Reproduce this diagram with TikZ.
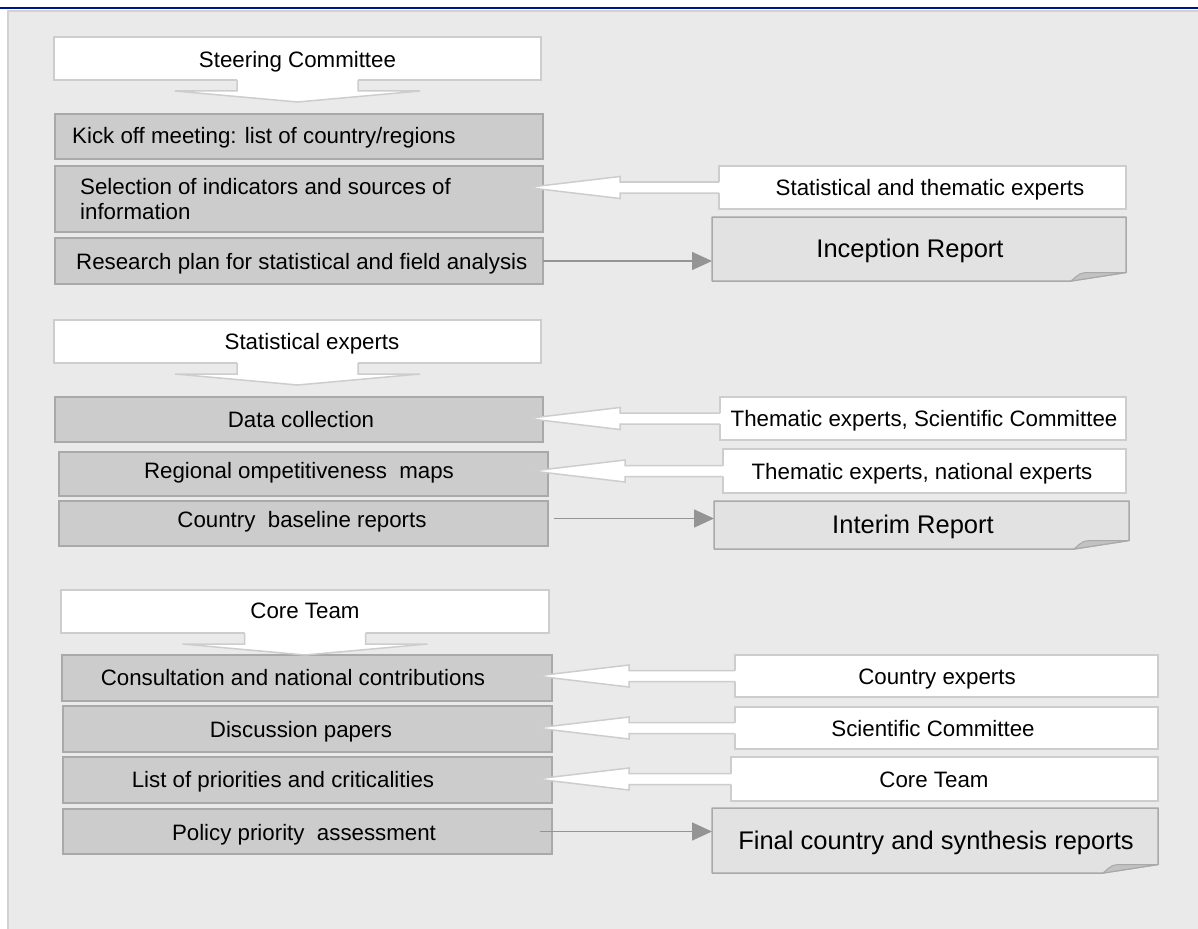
\documentclass[tikz,border=0pt]{standalone}
\usepackage{fontspec}
\setmainfont{Liberation Sans}
\usetikzlibrary{calc,arrows.meta}
\definecolor{panelbg}{HTML}{EAEAEA}
\definecolor{panelline}{HTML}{D2D2D2}
\definecolor{navy}{RGB}{0,20,135}
\definecolor{wline}{HTML}{CDCDCD}
\definecolor{gfill}{HTML}{CCCCCC}
\definecolor{gline}{HTML}{A9A9A9}
\definecolor{docfill}{HTML}{E2E2E2}
\definecolor{foldfill}{HTML}{C2C2C2}
\definecolor{arrowgray}{HTML}{949494}
\tikzset{
  wbox/.style={draw=wline, fill=white, line width=1.5pt, inner sep=0pt, outer sep=0pt, anchor=north west},
  gbox/.style={draw=gline, fill=gfill, line width=1.5pt, inner sep=0pt, outer sep=0pt, anchor=north west},
  docnode/.style={inner sep=0pt, outer sep=0pt, anchor=north west},
  docshape/.style={draw=gline, fill=docfill, line width=1.5pt, line join=round},
  foldshape/.style={draw=gline, fill=foldfill, line width=1pt, line join=round},
  txt/.style={font=\fontsize{22.3}{25}\selectfont, anchor=base, inner sep=0pt},
  bigtxt/.style={font=\fontsize{25.5}{30}\selectfont, anchor=base, inner sep=0pt},
  arrowfill/.style={fill=white},
  arrowline/.style={draw=wline, line width=1.5pt, line join=miter},
  flowarrow/.style={draw=arrowgray, line width=1.5pt, -{Triangle[length=20pt,width=18pt]}},
}
\newcommand\boxat[6]{\node[#1, minimum width={#5-#3}, minimum height={#6-#4}] (#2) at (#3,#4) {};}
\newcommand\docat[5]{%
  \node[docnode, minimum width={#4-#2}, minimum height={#5-#3}] (#1) at (#2,#3) {};
  \path[docshape] (#1.north west) -- (#1.north east) -- ($(#1.south east)+(0,-8.5)$)
     .. controls ($(#1.south east)+(-28,-5)$) .. ($(#1.south east)+(-55,0)$) -- (#1.south west) -- cycle;
  \path[foldshape] ($(#1.south east)+(-55,0)$) .. controls ($(#1.south east)+(-46,-8)$) .. ($(#1.south east)+(-38,-8.5)$)
     -- ($(#1.south east)+(0,-8.5)$) .. controls ($(#1.south east)+(-28,-5)$) .. ($(#1.south east)+(-55,0)$) -- cycle;
}
\newcommand\downblock[1]{%
  \fill[arrowfill] ($(#1.south)+(-60.5,-1.5)$) -- ($(#1.south)+(-60.5,11)$) -- ($(#1.south)+(-122.5,11)$)
     -- ($(#1.south)+(0,22)$) -- ($(#1.south)+(122.5,11)$) -- ($(#1.south)+(60.5,11)$) -- ($(#1.south)+(60.5,-1.5)$) -- cycle;
  \draw[arrowline] ($(#1.south)+(-60.5,0)$) -- ($(#1.south)+(-60.5,11)$) -- ($(#1.south)+(-122.5,11)$)
     -- ($(#1.south)+(0,22)$) -- ($(#1.south)+(122.5,11)$) -- ($(#1.south)+(60.5,11)$) -- ($(#1.south)+(60.5,0)$);
}
\newcommand\leftblock[2]{%
  \fill[arrowfill] let \p1=(#1.west), \p2=(#2.east) in
    (\x2-16pt,\y1) -- (\x2+77pt,\y1-11pt) -- (\x2+77pt,\y1-5.5pt) -- (\x1+1.5pt,\y1-5.5pt)
    -- (\x1+1.5pt,\y1+5.5pt) -- (\x2+77pt,\y1+5.5pt) -- (\x2+77pt,\y1+11pt) -- cycle;
  \draw[arrowline] let \p1=(#1.west), \p2=(#2.east) in
    (\x1,\y1-5.5pt) -- (\x2+77pt,\y1-5.5pt) -- (\x2+77pt,\y1-11pt) -- (\x2-16pt,\y1)
    -- (\x2+77pt,\y1+11pt) -- (\x2+77pt,\y1+5.5pt) -- (\x1,\y1+5.5pt);
}
\begin{document}
\begin{tikzpicture}[x=1pt, y=-1pt]
\useasboundingbox (0,0) rectangle (1198,928);
% background panel and top rule
\fill[panelbg] (8,11) rectangle (1199,929);
\draw[panelline, line width=1.5pt] (8,929) -- (8,11) -- (1199,11);
\draw[navy, line width=2.2pt] (0,7.7) -- (1198,7.7);

% ---- section 1
\boxat{wbox}{sc}{54}{37}{541}{80}
\boxat{gbox}{kick}{55}{114}{543}{159}
\boxat{gbox}{sel}{55}{166}{543}{232}
\boxat{gbox}{res}{55}{238}{543}{284}
\boxat{wbox}{ste}{719}{166}{1126}{209}
\docat{inc}{712}{217}{1126}{281}
\downblock{sc}
\leftblock{ste}{sel}
\draw[flowarrow] (res.east) -- (res.east -| inc.west);

\node[txt] (tsc) at (297.5,68) {Steering Committee};
\node[txt, anchor=base west] (tkick) at (72,144) {Kick off meeting: list of country/regions};
\node[txt, anchor=west, align=left] (tsel) at (80,199.5) {Selection of indicators and sources of\\information};
\node[txt, anchor=base west] (tres) at (76,269) {Research plan for statistical and field analysis};
\node[txt] (tste) at (930,195) {Statistical and thematic experts};
\node[bigtxt] (tinc) at (910,257) {Inception Report};

% ---- section 2
\boxat{wbox}{se}{54}{320}{541}{363}
\boxat{gbox}{dc}{55}{397}{543}{442}
\boxat{gbox}{rom}{59}{452}{548}{496}
\boxat{gbox}{cbr}{59}{501}{548}{546}
\boxat{wbox}{tesc}{720}{397}{1126}{440}
\boxat{wbox}{tene}{723}{449}{1126}{493}
\docat{irep}{714}{501}{1129}{549}
\downblock{se}
\leftblock{tesc}{dc}
\leftblock{tene}{rom}
\draw[flowarrow] ([xshift=6pt,yshift=5pt]cbr.east) -- ([yshift=5pt]cbr.east -| irep.west);

\node[txt] (tse) at (312,349) {Statistical experts};
\node[txt] (tdc) at (301,427) {Data collection};
\node[txt] (trom) at (299,478) {Regional ompetitiveness\ \ maps};
\node[txt] (tcbr) at (302,527) {Country\ \ baseline reports};
\node[txt] (ttesc) at (924,426) {Thematic experts, Scientific Committee};
\node[txt] (ttene) at (922,479) {Thematic experts, national experts};
\node[bigtxt] (tirep) at (913,533) {Interim Report};

% ---- section 3
\boxat{wbox}{ct}{61}{590}{549}{633}
\boxat{gbox}{cnc}{62}{655}{552}{701}
\boxat{gbox}{dp}{63}{706}{552}{752}
\boxat{gbox}{lpc}{63}{757}{552}{803}
\boxat{gbox}{ppa}{63}{809}{552}{854}
\boxat{wbox}{cex}{735}{655}{1158}{697}
\boxat{wbox}{scx}{735}{707}{1158}{749}
\boxat{wbox}{ctx}{731}{757}{1158}{801}
\docat{fin}{712}{808}{1158}{873}
\downblock{ct}
\leftblock{cex}{cnc}
\leftblock{scx}{dp}
\leftblock{ctx}{lpc}
\draw[flowarrow] ([xshift=-12pt]ppa.east) -- (ppa.east -| fin.west);

\node[txt] (tct) at (305,618) {Core Team};
\node[txt] (tcnc) at (293,685) {Consultation and national contributions};
\node[txt] (tdp) at (301,737) {Discussion papers};
\node[txt] (tlpc) at (283,787) {List of priorities and criticalities};
\node[txt] (tppa) at (304,840) {Policy priority\ \ assessment};
\node[txt] (tcex) at (937,684) {Country experts};
\node[txt] (tscx) at (933,736) {Scientific Committee};
\node[txt] (tctx) at (934,787) {Core Team};
\node[bigtxt] (tfin) at (936,849) {Final country and synthesis reports};
\end{tikzpicture}
\end{document}
